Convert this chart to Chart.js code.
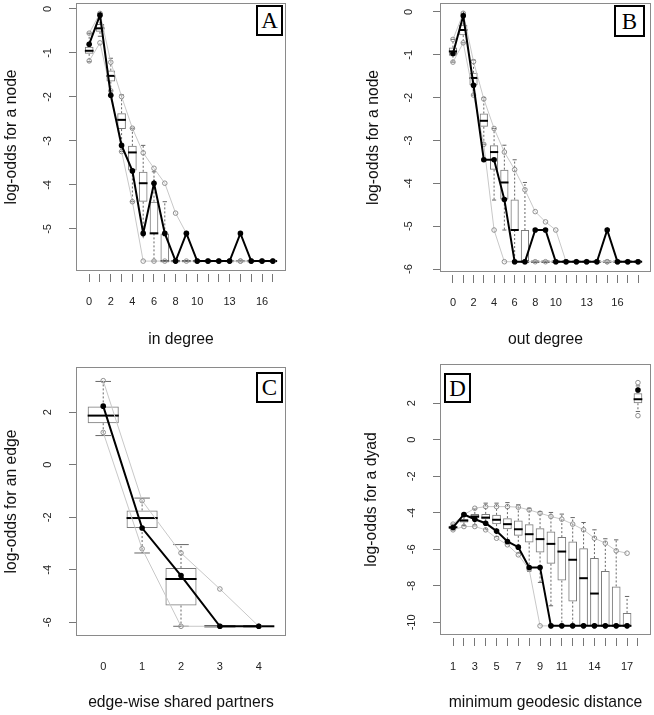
<!DOCTYPE html>
<html>
<head>
<meta charset="utf-8">
<script src="https://cdn.jsdelivr.net/npm/chart.js@4.4.1/dist/chart.umd.min.js"></script>
<style>
  body { margin: 0; background: #fff; width: 654px; height: 715px; position: relative; overflow: hidden; }
  canvas { position: absolute; }
  .tag { position: absolute; box-sizing: border-box; border: 2px solid #000; background: #fff;
         font-family: "Liberation Serif", "Times New Roman", serif; font-size: 23px; text-align: center; }
</style>
</head>
<body>
<canvas id="cA" width="327" height="357" style="left:0;top:0"></canvas>
<canvas id="cB" width="327" height="357" style="left:327px;top:0"></canvas>
<canvas id="cC" width="327" height="358" style="left:0;top:357px"></canvas>
<canvas id="cD" width="327" height="358" style="left:327px;top:357px"></canvas>
<div class="tag" style="left:256px;top:5px;width:27px;height:31px;line-height:28px">A</div>
<div class="tag" style="left:614px;top:5px;width:31px;height:32px;line-height:29px">B</div>
<div class="tag" style="left:256px;top:372px;width:27px;height:31px;line-height:28px">C</div>
<div class="tag" style="left:444px;top:373px;width:27px;height:30px;line-height:27px">D</div>
<script>
// ---- A: in degree ----
const inDeg = [0, 1, 2, 3, 4, 5, 6, 7, 8, 9, 10, 11, 12, 13, 14, 15, 16, 17];
const inDegLabels = [0, 2, 4, 6, 8, 10, 13, 16];
const inYTicks = [0, -1, -2, -3, -4, -5];
const inObs = [-0.80, -0.14, -1.96, -3.10, -3.68, -5.10, -3.96, -5.10, -5.73, -5.10, -5.73, -5.73, -5.73, -5.73, -5.10, -5.73, -5.73, -5.73];
const inQ3 = [-0.86, -0.34, -1.40, -2.37, -3.11, -3.70, -4.38, -5.10, -5.73, -5.73, -5.73, -5.73, -5.73, -5.73, -5.73, -5.73, -5.73, -5.73];
const inMed = [-0.95, -0.44, -1.52, -2.52, -3.26, -3.96, -5.10, -5.73, -5.73, -5.73, -5.73, -5.73, -5.73, -5.73, -5.73, -5.73, -5.73, -5.73];
const inQ1 = [-1.02, -0.52, -1.65, -2.73, -3.67, -4.38, -5.10, -5.73, -5.73, -5.73, -5.73, -5.73, -5.73, -5.73, -5.73, -5.73, -5.73, -5.73];
const inWhHi = [-0.55, -0.10, -1.12, -1.95, -2.71, -3.10, -3.70, -4.38, -5.73, -5.73, -5.73, -5.73, -5.73, -5.73, -5.73, -5.73, -5.73, -5.73];
const inWhLo = [-1.20, -0.62, -1.86, -3.24, -4.38, -5.10, -5.73, -5.73, -5.73, -5.73, -5.73, -5.73, -5.73, -5.73, -5.73, -5.73, -5.73, -5.73];
const inMax = [-0.55, -0.10, -1.21, -1.99, -2.71, -3.27, -3.62, -3.96, -4.64, -5.10, -5.73, -5.73, -5.73, -5.73, -5.73, -5.73, -5.73, -5.73];
const inMin = [-1.18, -0.77, -1.86, -3.24, -4.38, -5.73, -5.73, -5.73, -5.73, -5.73, -5.73, -5.73, -5.73, -5.73, -5.73, -5.73, -5.73, -5.73];

// ---- B: out degree ----
const outDeg = [0, 1, 2, 3, 4, 5, 6, 7, 8, 9, 10, 11, 12, 13, 14, 15, 16, 17, 18];
const outDegLabels = [0, 2, 4, 6, 8, 10, 13, 16];
const outYTicks = [0, -1, -2, -3, -4, -5, -6];
const outObs = [-0.97, -0.09, -1.71, -3.45, -3.45, -4.38, -5.83, -5.83, -5.09, -5.09, -5.83, -5.83, -5.83, -5.83, -5.83, -5.09, -5.83, -5.83, -5.83];
const outQ3 = [-0.83, -0.30, -1.42, -2.37, -3.11, -3.68, -4.38, -5.09, -5.83, -5.83, -5.83, -5.83, -5.83, -5.83, -5.83, -5.83, -5.83, -5.83, -5.83];
const outMed = [-0.92, -0.42, -1.54, -2.54, -3.27, -3.98, -5.09, -5.83, -5.83, -5.83, -5.83, -5.83, -5.83, -5.83, -5.83, -5.83, -5.83, -5.83, -5.83];
const outQ1 = [-1.02, -0.54, -1.71, -2.68, -3.68, -4.38, -5.09, -5.83, -5.83, -5.83, -5.83, -5.83, -5.83, -5.83, -5.83, -5.83, -5.83, -5.83, -5.83];
const outWhHi = [-0.64, -0.03, -1.12, -2.00, -2.72, -3.11, -3.45, -3.98, -5.83, -5.83, -5.83, -5.83, -5.83, -5.83, -5.83, -5.83, -5.83, -5.83, -5.83];
const outWhLo = [-1.17, -0.72, -1.94, -3.09, -4.39, -5.09, -5.83, -5.83, -5.83, -5.83, -5.83, -5.83, -5.83, -5.83, -5.83, -5.83, -5.83, -5.83, -5.83];
const outMax = [-0.64, -0.03, -1.16, -2.03, -2.72, -3.27, -3.68, -4.15, -4.66, -4.90, -5.09, -5.83, -5.83, -5.83, -5.83, -5.83, -5.83, -5.83, -5.83];
const outMin = [-1.17, -0.72, -1.94, -3.09, -5.09, -5.83, -5.83, -5.83, -5.83, -5.83, -5.83, -5.83, -5.83, -5.83, -5.83, -5.83, -5.83, -5.83, -5.83];

// ---- C: edge-wise shared partners ----
const espCats = [0, 1, 2, 3, 4];
const espYTicks = [2, 0, -2, -4, -6];
const espObs = [2.23, -2.41, -4.22, -6.15, -6.15];
const espQ3 = [2.22, -1.74, -3.93, -6.15, -6.15];
const espMed = [1.87, -2.03, -4.35, -6.15, -6.15];
const espQ1 = [1.58, -2.41, -5.36, -6.15, -6.15];
const espWhHi = [3.17, -1.27, -3.04, -6.15, -6.15];
const espWhLo = [1.11, -3.36, -6.15, -6.15, -6.15];
const espMax = [3.20, -1.37, -3.36, -4.73, -6.15];
const espMin = [1.23, -3.20, -6.15, -6.15, -6.15];

// ---- D: minimum geodesic distance (last column = Inf) ----
const distPos = [1, 2, 3, 4, 5, 6, 7, 8, 9, 10, 11, 12, 13, 14, 15, 16, 17, 18];
const distLabels = [1, 3, 5, 7, 9, 11, 14, 17];
const distYTicks = [2, 0, -2, -4, -6, -8, -10];
const distObs = [-4.80, -4.09, -4.35, -4.57, -5.00, -5.57, -5.88, -6.99, -6.99, -10.19, -10.19, -10.19, -10.19, -10.19, -10.19, -10.19, -10.19, 2.73];
const distQ3 = [-4.71, -4.35, -4.06, -4.06, -4.11, -4.29, -4.42, -4.62, -4.84, -5.02, -5.33, -5.57, -5.94, -6.48, -7.18, -8.03, -9.48, 2.55];
const distMed = [-4.80, -4.42, -4.20, -4.26, -4.38, -4.62, -4.90, -5.17, -5.44, -5.70, -6.12, -6.57, -7.58, -8.42, -10.19, -10.19, -10.19, 2.22];
const distQ1 = [-4.90, -4.53, -4.29, -4.35, -4.62, -4.90, -5.26, -5.63, -6.17, -6.79, -7.71, -8.86, -10.19, -10.19, -10.19, -10.19, -10.19, 2.00];
const distWhHi = [-4.62, -4.15, -3.78, -3.47, -3.47, -3.44, -3.56, -3.75, -3.93, -3.98, -4.07, -4.26, -4.53, -4.93, -5.42, -5.48, -8.58, 2.95];
const distWhLo = [-4.93, -4.70, -4.66, -4.90, -5.30, -5.70, -6.20, -7.20, -7.81, -9.09, -10.19, -10.19, -10.19, -10.19, -10.19, -10.19, -10.19, 1.55];
const distMax = [-4.62, -4.10, -3.75, -3.66, -3.66, -3.66, -3.69, -3.84, -4.02, -4.20, -4.35, -4.62, -4.93, -5.39, -5.66, -6.08, -6.21, 3.13];
const distMin = [-4.93, -4.75, -4.75, -4.93, -5.39, -5.75, -6.30, -7.10, -10.19, -10.19, -10.19, -10.19, -10.19, -10.19, -10.19, -10.19, -10.19, 1.32];

const FONT = '"Liberation Sans", Arial, sans-serif';

// grey frame round the plot region
const frame = {
    id: 'frame',
    beforeDatasetsDraw(chart) {
        const c = chart.chartArea;
        const ctx = chart.ctx;
        ctx.save();
        ctx.strokeStyle = '#8a8a8a';
        ctx.lineWidth = 1;
        ctx.strokeRect(Math.round(c.left) + 0.5, Math.round(c.top) + 0.5,
            Math.round(c.right - c.left) - 1, Math.round(c.bottom - c.top) - 1);
        ctx.restore();
    }
};

function boxPanel(id, p) {
    const a = p.area;
    const unit = (a.r - a.l) / (p.xMax - p.xMin);
    const at = ys => p.pos.map((x, i) => ({ x: x, y: ys[i] }));
    const series = ys => {
        const out = [];
        p.pos.forEach((x, i) => {
            if (i === p.breakAt) out.push({ x: x - 0.5, y: null });
            out.push({ x: x, y: ys[i] });
        });
        return out;
    };
    const whisk = [];
    const caps = [];
    p.pos.forEach((x, i) => {
        if (p.whHi[i] > p.q3[i]) {
            whisk.push({ x: x, y: p.q3[i] }, { x: x, y: p.whHi[i] }, { x: x, y: null });
            caps.push({ x: x, y: p.whHi[i] });
        }
        if (p.whLo[i] < p.q1[i]) {
            whisk.push({ x: x, y: p.q1[i] }, { x: x, y: p.whLo[i] }, { x: x, y: null });
            caps.push({ x: x, y: p.whLo[i] });
        }
    });
    const noPad = s => { s.paddingTop = 0; s.paddingBottom = 0; s.paddingLeft = 0; s.paddingRight = 0; };

    return new Chart(document.getElementById(id), {
        type: 'line',
        data: {
            datasets: [{
                type: 'bar',
                data: p.pos.map((x, i) => ({ x: x, y: [p.q1[i], p.q3[i]] })),
                backgroundColor: 'rgba(255,255,255,0)',
                borderColor: '#7a7a7a',
                borderWidth: 1,
                borderSkipped: false,
                categoryPercentage: 0.8,
                barPercentage: 1,
                order: 5
            }, {
                data: whisk,
                borderColor: '#666',
                borderWidth: 1,
                borderDash: [2, 2],
                pointRadius: 0,
                spanGaps: false,
                order: 4
            }, {
                data: caps,
                showLine: false,
                pointStyle: 'line',
                pointRadius: 0.2 * unit,
                pointBorderColor: '#666',
                pointBorderWidth: 1,
                order: 3
            }, {
                data: at(p.med),
                showLine: false,
                pointStyle: 'line',
                pointRadius: 0.4 * unit,
                pointBorderColor: '#000',
                pointBorderWidth: 2,
                order: 2
            }, {
                data: series(p.max),
                borderColor: '#c8c8c8',
                borderWidth: 1,
                pointRadius: 2.3,
                pointBorderColor: '#909090',
                pointBackgroundColor: 'rgba(255,255,255,0)',
                pointBorderWidth: 1,
                order: 1
            }, {
                data: series(p.min),
                borderColor: '#c8c8c8',
                borderWidth: 1,
                pointRadius: 2.3,
                pointBorderColor: '#909090',
                pointBackgroundColor: 'rgba(255,255,255,0)',
                pointBorderWidth: 1,
                order: 1
            }, {
                data: series(p.obs),
                borderColor: '#000',
                borderWidth: 2,
                pointRadius: 2.8,
                pointBackgroundColor: '#000',
                pointBorderWidth: 0,
                order: 0
            }]
        },
        options: {
            responsive: false,
            animation: false,
            events: [],
            layout: { autoPadding: false, padding: { left: 0, top: a.t, right: p.w - a.r, bottom: 0 } },
            plugins: { legend: { display: false }, tooltip: { enabled: false } },
            elements: { line: { tension: 0 } },
            scales: {
                x: {
                    type: 'linear',
                    min: p.xMin,
                    max: p.xMax,
                    offset: false,
                    afterFit: s => { s.height = p.h - a.b; noPad(s); },
                    afterBuildTicks: s => { s.ticks = p.pos.map(v => ({ value: v })); },
                    ticks: {
                        autoSkip: false, maxRotation: 0, minRotation: 0,
                        padding: p.xPad, color: '#222',
                        font: { family: FONT, size: 11 },
                        callback: v => p.labels.includes(v) ? String(v) : ''
                    },
                    grid: {
                        drawOnChartArea: false, drawTicks: p.xTicks, offset: false,
                        tickLength: 11, tickBorderDash: [0, 3, 8, 40], color: '#777'
                    },
                    border: { display: false },
                    title: {
                        display: true, text: p.xTitle, color: '#111',
                        font: { family: FONT, size: 15.7 },
                        padding: { top: 0, bottom: p.xTitlePad }
                    }
                },
                y: {
                    type: 'linear',
                    min: p.yMin,
                    max: p.yMax,
                    beginAtZero: false,
                    afterFit: s => { s.width = a.l; noPad(s); },
                    afterBuildTicks: s => { s.ticks = p.yTicks.map(v => ({ value: v })); },
                    ticks: {
                        minRotation: 90, maxRotation: 90, crossAlign: 'center',
                        padding: p.yPad, color: '#222',
                        font: { family: FONT, size: 11 },
                        callback: v => String(v)
                    },
                    grid: { drawOnChartArea: false, drawTicks: true, tickLength: 7, color: '#777' },
                    border: { display: false },
                    title: {
                        display: true, text: p.yTitle, color: '#111',
                        font: { family: FONT, size: 15.7 },
                        padding: { top: p.yTitlePad, bottom: 0 }
                    }
                }
            }
        },
        plugins: [frame]
    });
}

boxPanel('cA', {
    w: 327, h: 357, area: { l: 76, t: 3, r: 286, b: 271 },
    pos: inDeg, labels: inDegLabels, yTicks: inYTicks,
    xMin: -1.22, xMax: 18.22, yMin: -5.955, yMax: 0.136,
    obs: inObs, q1: inQ1, med: inMed, q3: inQ3, whLo: inWhLo, whHi: inWhHi, min: inMin, max: inMax,
    xTitle: 'in degree', yTitle: 'log-odds for a node',
    xTicks: true, xPad: 13, xTitlePad: 7.7, yPad: 16, yTitlePad: 2.7
});

boxPanel('cB', {
    w: 327, h: 357, area: { l: 113, t: 3, r: 324, b: 272 },
    pos: outDeg, labels: outDegLabels, yTicks: outYTicks,
    xMin: -1.26, xMax: 19.26, yMin: -6.07, yMax: 0.21,
    obs: outObs, q1: outQ1, med: outMed, q3: outQ3, whLo: outWhLo, whHi: outWhHi, min: outMin, max: outMax,
    xTitle: 'out degree', yTitle: 'log-odds for a node',
    xTicks: true, xPad: 13, xTitlePad: 7.7, yPad: 19, yTitlePad: 37.7
});

boxPanel('cC', {
    w: 327, h: 358, area: { l: 76, t: 10, r: 286, b: 279 },
    pos: espCats, labels: espCats, yTicks: espYTicks,
    xMin: -0.7, xMax: 4.7, yMin: -6.52, yMax: 3.72,
    obs: espObs, q1: espQ1, med: espMed, q3: espQ3, whLo: espWhLo, whHi: espWhHi, min: espMin, max: espMax,
    xTitle: 'edge-wise shared partners', yTitle: 'log-odds for an edge',
    xTicks: false, xPad: 24.4, xTitlePad: 2.7, yPad: 16, yTitlePad: 2.7
});

boxPanel('cD', {
    w: 327, h: 358, area: { l: 113, t: 7, r: 324, b: 278 },
    pos: distPos, labels: distLabels, yTicks: distYTicks, breakAt: 17,
    xMin: -0.2, xMax: 19.2, yMin: -10.69, yMax: 4.15,
    obs: distObs, q1: distQ1, med: distMed, q3: distQ3, whLo: distWhLo, whHi: distWhHi, min: distMin, max: distMax,
    xTitle: 'minimum geodesic distance', yTitle: 'log-odds for a dyad',
    xTicks: true, xPad: 14.4, xTitlePad: 2.7, yPad: 13, yTitlePad: 35.7
});
</script>
</body>
</html>
